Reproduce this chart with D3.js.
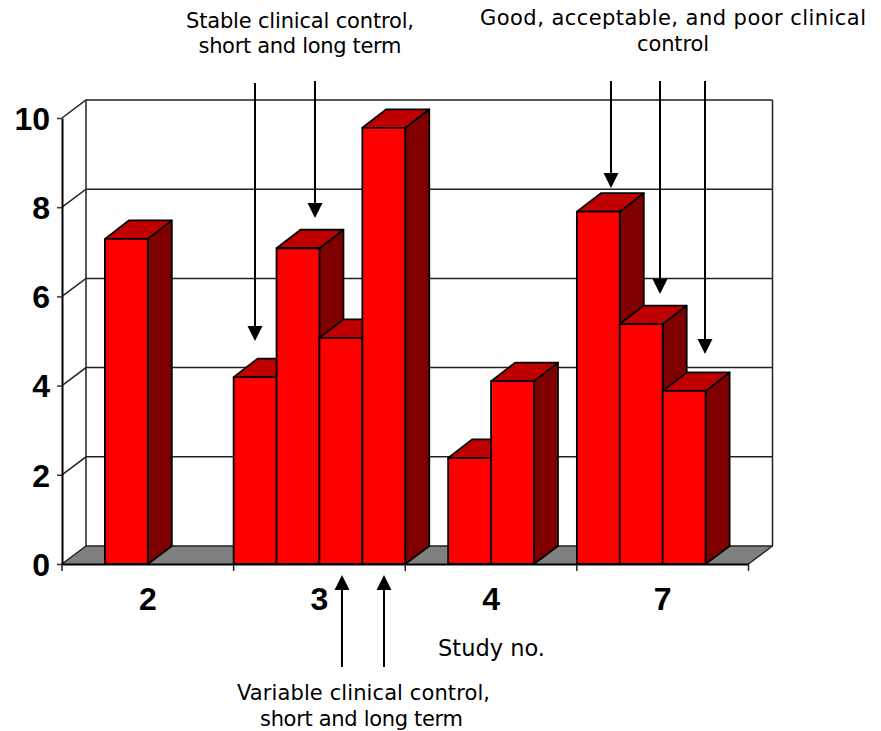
<!DOCTYPE html>
<html>
<head>
<meta charset="utf-8">
<script src="https://cdn.jsdelivr.net/npm/d3@7"></script>
<style>html,body{margin:0;padding:0;background:#fff}svg{display:block}</style>
</head>
<body>
<script>
const categories = ["2", "3", "4", "7"];
const slots = ["a", "b", "c", "d"];
const seriesA = [null, 4.19, null, 7.9];
const seriesB = [7.29, 7.08, 2.38, 5.38];
const seriesC = [null, 5.07, 4.1, 3.88];
const seriesD = [null, 9.78, null, null];
const yTicks = [0, 2, 4, 6, 8, 10];

const W = 881, H = 731;
const svg = d3.select("body").append("svg").attr("width", W).attr("height", H);
const x0 = 62, x1 = 748.5, y0 = 564, y1 = 118, dx = 24, dy = -18, barRise = -18.5;
const annFont = "'DejaVu Sans', sans-serif";
const axFont = "'Liberation Sans', Arial, sans-serif";

const x = d3.scaleBand().domain(categories).range([x0, x1]);
const xs = d3.scaleBand().domain(slots).range([0, x.bandwidth()]);
const y = d3.scaleLinear().domain([0, 10]).range([y0, y1]);

// floor
svg.append("polygon")
  .attr("points", [[x0, y0], [x0 + dx, y0 + dy], [x1 + dx, y0 + dy], [x1, y0]].join(" "))
  .attr("fill", "#808080").attr("stroke", "none");

// walls and gridlines
const grid = svg.append("g").attr("fill", "none").attr("stroke", "#222").attr("stroke-width", 1.5);
yTicks.forEach(t => {
  grid.append("polyline")
    .attr("points", [[x0, y(t)], [x0 + dx, y(t) + dy], [x1 + dx, y(t) + dy]].join(" "));
});
grid.append("line").attr("x1", x0 + dx).attr("x2", x0 + dx).attr("y1", y(0) + dy).attr("y2", y(10) + dy);
grid.append("line").attr("x1", x1 + dx).attr("x2", x1 + dx).attr("y1", y(0) + dy).attr("y2", y(10) + dy);
grid.append("line").attr("x1", x1).attr("x2", x1 + dx).attr("y1", y(0)).attr("y2", y(0) + dy);

// bars
const bars = [];
categories.forEach((c, i) => {
  [seriesA, seriesB, seriesC, seriesD].forEach((s, j) => {
    if (s[i] !== null) bars.push({ c, slot: slots[j], v: s[i] });
  });
});
const gb = svg.append("g").attr("stroke", "#000").attr("stroke-width", 1.8).attr("stroke-linejoin", "round");
bars.forEach(b => {
  const l = x(b.c) + xs(b.slot), r = l + xs.bandwidth(), t = y(b.v), f = y(0);
  gb.append("polygon").attr("fill", "#800000")
    .attr("points", [[r, f], [r + dx, f + dy], [r + dx, t + barRise], [r, t]].join(" "));
  gb.append("polygon").attr("fill", "#c00000")
    .attr("points", [[l, t], [l + dx, t + barRise], [r + dx, t + barRise], [r, t]].join(" "));
  gb.append("rect").attr("fill", "#ff0000")
    .attr("x", l).attr("y", t).attr("width", r - l).attr("height", f - t);
});

// axes
const yAxis = d3.axisLeft(y).tickValues(yTicks).tickSize(5).tickPadding(7).tickSizeOuter(0);
const gy = svg.append("g").attr("transform", `translate(${x0},0)`).call(yAxis);
gy.select(".domain").attr("stroke", "#000").attr("stroke-width", 2);
gy.selectAll(".tick line").attr("stroke", "#333").attr("stroke-width", 1.5);
gy.selectAll("text").attr("font-family", axFont).attr("font-weight", "bold").attr("font-size", 32).attr("dy", "0.35em").attr("fill", "#000");

const xAxis = d3.axisBottom(x).tickSize(0).tickPadding(23);
const gx = svg.append("g").attr("transform", `translate(0,${y0})`).call(xAxis);
gx.select(".domain").attr("stroke", "#000").attr("stroke-width", 2);
gx.selectAll("text").attr("font-family", axFont).attr("font-weight", "bold").attr("font-size", 32).attr("fill", "#000");
gx.selectAll(".sep").data(d3.range(categories.length + 1)).enter().append("line")
  .attr("class", "sep")
  .attr("x1", i => x0 + i * x.bandwidth()).attr("x2", i => x0 + i * x.bandwidth())
  .attr("y1", 0).attr("y2", 7).attr("stroke", "#222").attr("stroke-width", 1.5);

// annotation arrows
function arrow(ax, from, to) {
  const dir = to > from ? 1 : -1;
  svg.append("line").attr("x1", ax).attr("x2", ax).attr("y1", from).attr("y2", to - dir * 8)
    .attr("stroke", "#000").attr("stroke-width", 2);
  svg.append("polygon").attr("fill", "#000")
    .attr("points", [[ax - 7.5, to - dir * 15], [ax + 7.5, to - dir * 15], [ax, to]].join(" "));
}
[[255, 83, 341], [315, 81, 218], [611, 81, 188], [660, 81, 294], [705, 81, 354],
 [342, 667, 575], [384, 667, 575]].forEach(a => arrow(...a));

// annotation text
function label(cx, by, s, len, size) {
  svg.append("text").attr("x", cx).attr("y", by).attr("text-anchor", "middle")
    .attr("font-family", annFont).attr("font-size", size || 21).attr("fill", "#000")
    .attr("textLength", len).attr("lengthAdjust", "spacing").text(s);
}
label(300, 28, "Stable clinical control,", 228);
label(300, 53, "short and long term", 203);
label(673, 25, "Good, acceptable, and poor clinical", 386);
label(673, 51, "control", 72);
label(491.5, 656, "Study no.", 107, 22.5);
label(363.5, 700, "Variable clinical control,", 253);
label(361.5, 726, "short and long term", 203);
</script>
</body>
</html>
